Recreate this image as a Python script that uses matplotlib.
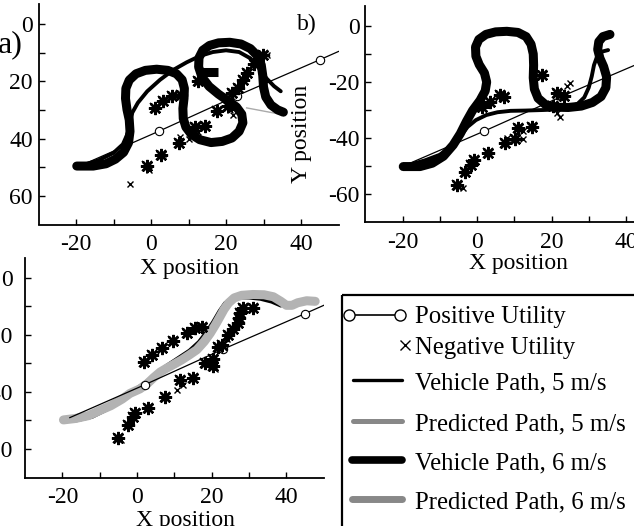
import matplotlib
matplotlib.use("Agg")
import matplotlib.pyplot as plt
from matplotlib.patches import Rectangle
from matplotlib.lines import Line2D

plt.rcParams["font.family"] = ["Liberation Serif", "DejaVu Serif"]
plt.rcParams["axes.unicode_minus"] = False
plt.rcParams["font.size"] = 17

# ---- positive utility line (same in all panels) ----
POS_X = [-18, 2, 23, 45, 50]
POS_Y = [-49, -37.5, -25, -12.5, -9.6]

# ---- panel a ----
A6_X = [-19.8, -15.4, -12, -9.5, -7.3, -6.0, -5.6, -5.8, -6.4, -6.8, -6.7, -5.8, -4, -1.5,
        1.5, 4.5, 6.8, 8.3, 8.9, 8.8, 8.5, 8.6, 9.3, 10.8, 13, 16, 19, 21.6, 23.5, 24.5,
        24.2, 22.8, 20.5, 18, 15.5, 13.6, 12.7, 12.8, 13.8, 15.6, 18, 21, 24, 26.5, 28.3,
        29.4, 29.8, 30, 30.6, 32, 33.8, 35.3]
A6_Y = [-49.6, -49.6, -48.8, -47.2, -44.8, -41.5, -37.5, -33.5, -29.9, -26, -22.5, -19.6,
        -17.4, -16.2, -15.8, -16.2, -17.4, -19.5, -22.5, -26, -29.5, -33, -36, -38.6, -40.4,
        -41.4, -41, -39.8, -37.5, -34.5, -31.5, -29, -26.8, -24.5, -21.8, -18.6, -15, -11.8,
        -9.2, -7.5, -6.6, -6.4, -7, -8.6, -11, -14.3, -18, -22, -25.5, -28.3, -30, -30.8]
A6B_X = [13.2, 17.9]
A6B_Y = [-16.6, -16.6]
A5_X = [-18, -14, -10, -7.5, -5.8, -5.0, -3.5, -1, 2.4, 6, 9.5, 13, 16.5, 20, 23.5, 26.5,
        28.8, 30.8, 32.8, 34.6]
A5_Y = [-49.2, -47.6, -45, -42, -37, -31, -27.5, -23.5, -19.5, -16, -13.4, -11.2, -9.8,
        -9.2, -9.8, -12, -15.2, -19, -21.7, -23.5]
A_PRED_X = [25.5, 35.3]
A_PRED_Y = [-29.3, -31.7]
A_NEG_DENSE = [(-1.0, -49.5), (2.6, -45.6), (7.5, -41.5), (11.8, -36), (14.5, -35.7),
               (1.1, -29.3), (3.3, -27), (5.5, -25.3), (8, -24.8), (12.5, -20),
               (17.6, -30.5), (20.6, -28.5), (21.5, -24.1), (23.3, -22.4), (24.5, -19.5),
               (25.6, -17), (27.4, -14), (29.8, -10.8)]
A_NEG_SINGLE = [(-5.6, -56), (-0.5, -51), (7.8, -39.6), (10, -40.3), (12.6, -37.6),
                (21.8, -31.7), (21, -30.2), (30.8, -10.8), (3.2, -45.4)]

# ---- panel b ----
B6_X = [-19.8, -15.3, -12, -9, -6.4, -4.5, -2.8, -1.2, 0.8, 2.2, 2.6, 2, 0.6, -0.3, -0.4,
        0.5, 2.4, 5, 8, 11, 13.2, 14.5, 15.1, 15.2, 15.1, 15.4, 16.4, 18.3, 21, 24.5, 28,
        31, 33.3, 34.6, 34.8, 34.0, 33, 32.4, 32.7, 33.8, 35.7]
B6_Y = [-50.2, -50.2, -49, -46.5, -42.5, -38.5, -34, -30.2, -26.6, -23.2, -20, -16.8,
        -13.8, -10.8, -7.5, -4.8, -3, -2.1, -1.9, -2.3, -3.8, -6.5, -10, -14, -18.5, -22.5,
        -25.8, -28, -29, -29.1, -28.6, -27.3, -25.2, -22, -18.2, -14.5, -11.5, -8.4, -5.6,
        -3.8, -3.0]
B5_X = [-18, -14, -10, -7, -4.5, -2.5, -0.3, 2.5, 5.5, 9, 13, 17.8, 21.5, 24.5, 27, 28.8,
        30, 30.8, 31.4, 32.2, 33.4, 35.2]
B5_Y = [-49.5, -48, -46, -43, -39.5, -36, -33.6, -31.8, -30.8, -30.3, -30.2, -30, -29.8,
        -29.2, -27.8, -25.5, -22, -18, -14, -11, -9.2, -8.6]
B_NEG_DENSE = [(-5.5, -56.8), (-3.2, -52), (-1.5, -49.5), (-0.8, -48), (3, -45.5),
               (7.5, -41.9), (10.2, -40.5), (11, -36.3), (14.7, -36), (1.3, -28.8),
               (3.5, -27), (6.2, -24.6), (7.3, -25.3), (17.4, -17.5), (20.5, -28.5),
               (21.6, -24), (23.4, -25)]
B_NEG_SINGLE = [(-3.7, -58), (8, -40), (12.4, -40.5), (12.4, -37.6), (21.4, -31.2),
                (22.2, -32.5), (24.1, -21.5), (25, -20.5), (2.5, -44.5)]

# ---- panel c ----
C_PRED_X = [-19.7, -16.5, -13, -10, -7, -4, -1.9, 0.8, 2.8, 4.4, 6.2, 8, 10, 12, 14, 16,
            18, 19.6, 21, 22.2, 23.3, 24.5, 26, 28, 31, 34, 36.5, 38.5, 40, 41.5, 43,
            45.4, 47.7]
C_PRED_Y = [-49.8, -49.3, -48.3, -46.5, -44.8, -42.5, -40.5, -38.9, -37, -35, -33, -31.6,
            -30.2, -28.7, -27.0, -25.2, -22.3, -19.4, -16.4, -13.6, -11.0, -8.8, -7.0, -6.1,
            -5.8, -5.9, -6.6, -8.2, -9.6, -9.6, -8.7, -8.0, -8.2]
C_VEH_X = [-20, -16, -12, -8, -4, -1, 2, 5, 8, 11, 14, 16.5, 18.5, 20.3, 22, 23.5, 25,
           27, 30, 33, 36, 38.5]
C_VEH_Y = [-50.4, -50.0, -48.8, -46.2, -42.4, -39.4, -36.8, -33.6, -30.6, -28.0, -25.4,
           -22.4, -19.0, -15.4, -11.6, -8.8, -7.4, -6.9, -7.0, -7.4, -8.4, -9.8]
C_NEG_DENSE = [(-5, -56.3), (-2.3, -51.6), (-1, -48.7), (-0.5, -47.5), (3, -45.7),
               (7.5, -41.6), (11.5, -35.8), (15.1, -35.2), (1.9, -29.4), (3.9, -27),
               (6.8, -24.7), (9.5, -22.1), (13.3, -19.4), (15.5, -17.5), (17.5, -17.2),
               (18.2, -30), (20.4, -28.5), (20.4, -31), (21.8, -24.1), (22.7, -23.5),
               (24.4, -20), (25.7, -17.8), (27.1, -15.9), (27.4, -14.1), (27.6, -12.3),
               (28.5, -10.6), (31.1, -10.6)]
C_NEG_SINGLE = [(-4.4, -56.8), (10.6, -39.3), (12.4, -37.6), (21, -32), (24, -21.5)]

X_TICKS = [-20, 0, 20, 40]
Y_TICKS = [0, -20, -40, -60]

W, H = 634, 526
fig = plt.figure(figsize=(W / 100, H / 100), dpi=100)


def px_axes(left, right, top, bottom):
    ax = fig.add_axes([left / W, 1 - bottom / H, (right - left) / W, (bottom - top) / H])
    ax.set_facecolor("none")
    return ax


def style(ax, ylabels, ypad=4):
    ax.set_xlim(-30, 50)
    ax.set_ylim(-70, 7)
    ax.set_xticks(X_TICKS)
    ax.set_xticks([-10, 10, 30], minor=True)
    ax.set_yticks(Y_TICKS)
    ax.set_yticks([-10, -30, -50], minor=True)
    ax.set_yticklabels(ylabels)
    for s in ("top", "right"):
        ax.spines[s].set_visible(False)
    for s in ("left", "bottom"):
        ax.spines[s].set_linewidth(1.3)
    ax.tick_params(which="both", direction="in", length=4, width=1)
    ax.tick_params(axis="x", pad=7)
    ax.tick_params(axis="y", pad=ypad)


def draw_pos(ax):
    ax.plot(POS_X, POS_Y, color="black", lw=0.9, marker="o", ms=6, mfc="white",
            mec="black", mew=0.8, markevery=[1, 2, 3], zorder=3)


def draw_neg(ax, dense, single):
    ax.plot([p[0] for p in dense], [p[1] for p in dense], ls="none", marker=(8, 2, 0),
            ms=9.5, mew=1.7, color="black", zorder=4)
    ax.plot([p[0] for p in dense], [p[1] for p in dense], ls="none", marker="x",
            ms=7, mew=1.3, color="black", zorder=4)
    ax.plot([p[0] for p in single], [p[1] for p in single], ls="none", marker="x",
            ms=5, mew=1.0, color="black", zorder=4)


THICK = 6.5

# panel a
ax_a = px_axes(38.5, 338.5, 3.9, 224.5)
style(ax_a, ["0", "20", "40", "60"])
draw_pos(ax_a)
ax_a.plot(A_PRED_X, A_PRED_Y, color="#aaaaaa", lw=1.0, zorder=2)
ax_a.plot(A5_X, A5_Y, color="black", lw=2.8, solid_capstyle="round",
          solid_joinstyle="round", zorder=2)
ax_a.plot(A6_X, A6_Y, color="black", lw=THICK, solid_capstyle="round",
          solid_joinstyle="round", zorder=2)
ax_a.plot(A6B_X, A6B_Y, color="black", lw=THICK, solid_capstyle="butt", zorder=2)
draw_neg(ax_a, A_NEG_DENSE, A_NEG_SINGLE)
ax_a.set_xlabel("X position")
ax_a.xaxis.set_label_coords((189 - 38.5) / 300, -0.152)

# panel b
ax_b = px_axes(365.25, 663.25, 6.4, 222)
style(ax_b, ["0", "-20", "-40", "-60"])
draw_pos(ax_b)
ax_b.plot(B5_X, B5_Y, color="black", lw=2.8, solid_capstyle="round",
          solid_joinstyle="round", zorder=2)
ax_b.plot(B6_X, B6_Y, color="black", lw=THICK, solid_capstyle="round",
          solid_joinstyle="round", zorder=2)
draw_neg(ax_b, B_NEG_DENSE, B_NEG_SINGLE)
ax_b.set_xlabel("X position")
ax_b.xaxis.set_label_coords((518 - 365.25) / 298, -0.145)
ax_b.set_ylabel("Y position")
ax_b.yaxis.set_label_coords(-0.18, 0.41)

# panel c
ax_c = px_axes(25, 323.8, 258, 477.5)
style(ax_c, ["0", "-20", "-40", "-60"], ypad=9)
draw_pos(ax_c)
ax_c.plot(C_VEH_X, C_VEH_Y, color="black", lw=2.4, solid_capstyle="round",
          solid_joinstyle="round", zorder=2)
ax_c.plot(C_PRED_X, C_PRED_Y, color="#b3b3b3", lw=THICK, solid_capstyle="round",
          solid_joinstyle="round", zorder=2.5)
draw_neg(ax_c, C_NEG_DENSE, C_NEG_SINGLE)
ax_c.set_xlabel("X position")
ax_c.xaxis.set_label_coords((185 - 25) / 298.8, -0.148)

fig.text(-2 / W, 1 - 45 / H, "a)", fontsize=23, va="center", ha="left")
fig.text(297 / W, 1 - 24 / H, "b)", fontsize=17, va="center", ha="left")

# legend box drawn in pixel space
lg = fig.add_axes([0, 0, 1, 1], zorder=10)
lg.set_xlim(0, W)
lg.set_ylim(H, 0)
lg.axis("off")
lg.add_patch(Rectangle((342, 295), 320, 260, fill=False, lw=1.6, ec="black"))
rows = [317, 348, 383, 424, 463, 502]
labels = ["Positive Utility", "Negative Utility", "Vehicle Path, 5 m/s",
          "Predicted Path, 5 m/s", "Vehicle Path, 6 m/s", "Predicted Path, 6 m/s"]
lg.add_line(Line2D([349, 400], [rows[0] - 2] * 2, color="black", lw=1.2, marker="o",
                   ms=8, mfc="white", mec="black", mew=1))
lg.add_line(Line2D([405], [rows[1] - 3], ls="none", marker="x", ms=7, mew=1, color="black"))
lg.add_line(Line2D([353, 402], [rows[2] - 3] * 2, color="black", lw=2.4,
                   solid_capstyle="round"))
lg.add_line(Line2D([353, 402], [rows[3] - 3] * 2, color="#888888", lw=3.6,
                   solid_capstyle="round"))
lg.add_line(Line2D([352, 402], [rows[4] - 3] * 2, color="black", lw=5.5,
                   solid_capstyle="round"))
lg.add_line(Line2D([352, 402], [rows[5] - 3] * 2, color="#888888", lw=5.0,
                   solid_capstyle="round"))
for y, t in zip(rows, labels):
    lg.text(415, y, t, fontsize=17.8, va="center", ha="left")

fig.savefig("out.png", dpi=100)
